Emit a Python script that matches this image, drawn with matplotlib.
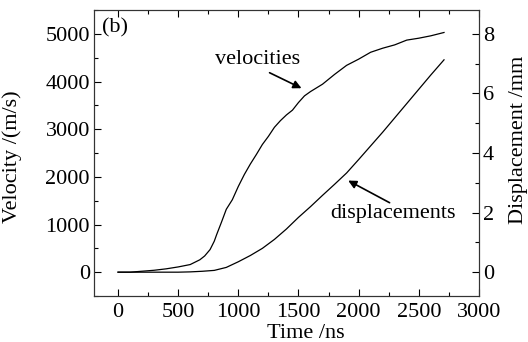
import numpy as np
import matplotlib
matplotlib.use("Agg")
import matplotlib.pyplot as plt
from matplotlib.ticker import MultipleLocator

plt.rcParams['font.family'] = ['Liberation Serif', 'DejaVu Serif']
plt.rcParams['font.size'] = 16

# velocity curve (ns, m/s)
t_vel = [0, 100, 200, 300, 400, 500, 600, 680, 720, 765, 800, 820, 860, 900, 950,
         1000, 1050, 1100, 1150, 1200, 1250, 1300, 1350, 1400, 1450, 1500, 1550,
         1600, 1700, 1800, 1900, 2000, 2100, 2200, 2300, 2400, 2500, 2600, 2710]
vel = [0, 0, 20, 40, 70, 110, 160, 260, 340, 474, 650, 790, 1050, 1320, 1520,
       1800, 2050, 2270, 2470, 2680, 2850, 3040, 3180, 3300, 3400, 3560, 3700,
       3790, 3945, 4150, 4340, 4470, 4615, 4700, 4770, 4870, 4910, 4960, 5030]

# displacement curve (ns, mm)
t_disp = [0, 500, 600, 700, 800, 900, 1000, 1100, 1200, 1300, 1400, 1500, 1600,
          1700, 1800, 1900, 2000, 2100, 2200, 2300, 2400, 2500, 2600, 2710]
disp = [0, 0.0, 0.01, 0.03, 0.06, 0.16, 0.35, 0.56, 0.80, 1.10, 1.45, 1.84, 2.2,
        2.58, 2.95, 3.33, 3.78, 4.24, 4.7, 5.18, 5.66, 6.14, 6.62, 7.13]

fig = plt.figure(figsize=(5.28, 3.42), dpi=100)
ax = fig.add_axes([0.178, 0.1345, 0.729, 0.836])
ax2 = ax.twinx()

ax.plot(t_vel, vel, color='k', lw=0.9)
ax2.plot(t_disp, disp, color='k', lw=0.9)

ax.set_xlim(-200, 3000)
ax.set_ylim(-500, 5500)
ax2.set_ylim(-0.8, 8.8)

ax.xaxis.set_major_locator(MultipleLocator(500))
ax.xaxis.set_minor_locator(MultipleLocator(250))
ax.yaxis.set_major_locator(MultipleLocator(1000))
ax.yaxis.set_minor_locator(MultipleLocator(500))
ax2.yaxis.set_major_locator(MultipleLocator(2))
ax2.yaxis.set_minor_locator(MultipleLocator(1))

ax.tick_params(which='both', direction='in', top=True, right=False, width=0.8)
ax.tick_params(which='major', length=5)
ax.tick_params(which='minor', length=3)
ax.tick_params(axis='x', pad=5)
ax.tick_params(axis='y', pad=3)
ax2.tick_params(which='both', direction='in', width=0.8, pad=3)
ax2.tick_params(which='major', length=5)
ax2.tick_params(which='minor', length=3)

for a in (ax, ax2):
    for s in a.spines.values():
        s.set_linewidth(0.8)
        s.set_color('#333333')

ax.set_xlabel('Time /ns')
ax.xaxis.set_label_coords(0.551, -0.098)
ax.set_ylabel('Velocity /(m/s)')
ax.yaxis.set_label_coords(-0.187, 0.486)
ax2.set_ylabel('Displacement /mm')
ax2.yaxis.set_label_coords(1.078, 0.545)

ax.text(0.021, 0.937, '(b)', transform=ax.transAxes, va='center', ha='left')

ax.text(1164, 4460, 'velocities', ha='center', va='center')
ax.annotate('', xy=(1546, 3835), xytext=(1239, 4211),
            arrowprops=dict(arrowstyle='-|>', color='k', lw=1.2, mutation_scale=12))
ax.text(2286, 1225, 'displacements', ha='center', va='center')
ax.annotate('', xy=(1893, 1950), xytext=(2278, 1430),
            arrowprops=dict(arrowstyle='-|>', color='k', lw=1.2, mutation_scale=12))

fig.savefig('out.png', dpi=100)
